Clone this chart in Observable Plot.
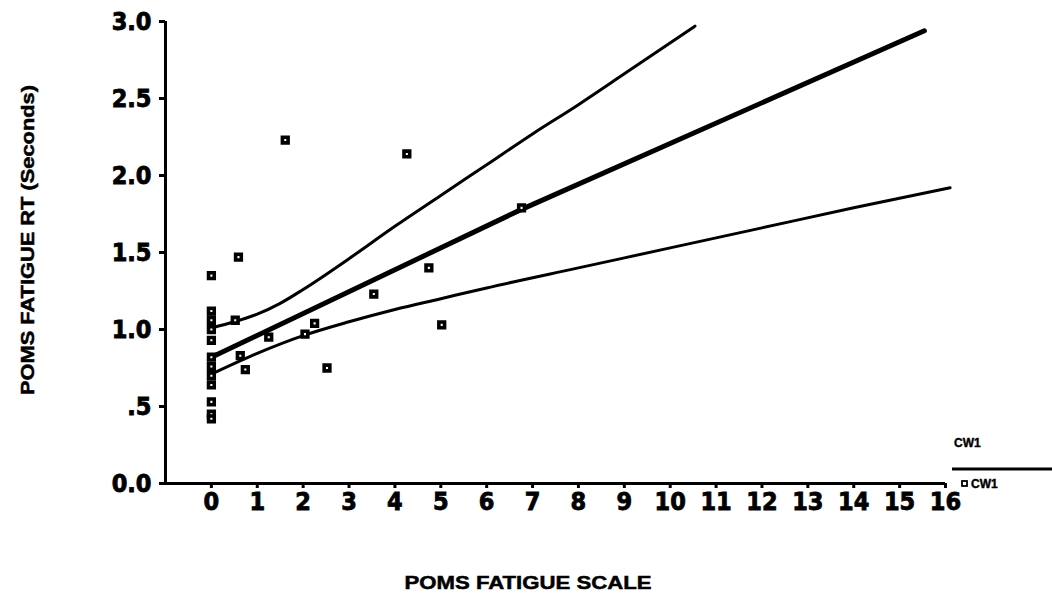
<!DOCTYPE html>
<html>
<head>
<meta charset="utf-8">
<script src="https://cdn.jsdelivr.net/npm/d3@7"></script>
<script src="https://cdn.jsdelivr.net/npm/@observablehq/plot@0.6"></script>
<style>
  html, body { margin: 0; padding: 0; background: #fff; }
  #chart svg { display: block; background: #fff; }
</style>
</head>
<body>
<div id="chart"></div>
<script>
// Scatter data: POMS fatigue scale score vs RT (seconds)
const pomsX = [0, 0, 0, 0, 0, 0, 0, 0, 0, 0, 0, 0,
               0.59, 0.52, 0.63, 0.74, 1.25, 1.61, 2.04, 2.25, 2.52, 3.54, 4.26, 4.74, 5.02, 6.76];
const rtY   = [1.35, 1.12, 1.06, 1.00, 0.93, 0.82, 0.76, 0.70, 0.64, 0.53, 0.45, 0.42,
               1.47, 1.06, 0.83, 0.74, 0.95, 2.23, 0.97, 1.04, 0.75, 1.23, 2.14, 1.40, 1.03, 1.79];

// Regression line
const fitX = [0, 6.76, 15.54];
const fitY = [0.82, 1.78, 2.94];
// Upper confidence curve
const upperX = [0, 0.5, 1, 1.5, 2, 3, 4, 5, 6, 7, 8, 9, 10.54];
const upperY = [1.01, 1.05, 1.10, 1.17, 1.26, 1.46, 1.67, 1.87, 2.07, 2.27, 2.46, 2.66, 2.97];
// Lower confidence curve
const lowerX = [0, 1, 2, 3, 4, 5, 6, 8, 10, 12, 14, 16.1];
const lowerY = [0.71, 0.845, 0.96, 1.05, 1.13, 1.20, 1.27, 1.40, 1.53, 1.66, 1.79, 1.92];

// Axis ticks
const xTicks = d3.range(0, 17);
const yTicks = [0, 0.5, 1, 1.5, 2, 2.5, 3];
const yTickLabels = ["0.0", ".5", "1.0", "1.5", "2.0", "2.5", "3.0"];

const xTitle = "POMS FATIGUE SCALE";
const yTitle = "POMS FATIGUE RT (Seconds)";
const legendTitle = "CW1";
const legendItem = "CW1";

const points = pomsX.map((x, i) => ({x, y: rtY[i]}));
const fit = fitX.map((x, i) => ({x, y: fitY[i]}));
const upper = upperX.map((x, i) => ({x, y: upperY[i]}));
const lower = lowerX.map((x, i) => ({x, y: lowerY[i]}));

const tickFont = "'Liberation Sans Narrow', 'DejaVu Sans Condensed', 'Liberation Sans', sans-serif";

const chart = Plot.plot({
  width: 1052,
  height: 603,
  marginLeft: 165,
  marginRight: 107,
  marginTop: 21,
  marginBottom: 120,
  style: {background: "#fff", color: "#000", overflow: "visible"},
  x: {domain: [-1, 16], axis: null},
  y: {domain: [0, 3], axis: null},
  marks: [
    Plot.ruleY([0], {stroke: "#000", strokeWidth: 3}),
    Plot.ruleX([-1], {stroke: "#000", strokeWidth: 3}),
    Plot.axisX({
      ticks: xTicks, tickSize: 5, tickPadding: 4, strokeWidth: 3,
      tickFormat: d => String(d), label: null,
      fontSize: 25, fontWeight: "bold", fontFamily: tickFont
    }),
    Plot.axisY({
      ticks: yTicks, tickSize: 6, tickPadding: 8, strokeWidth: 3,
      tickFormat: d => yTickLabels[yTicks.indexOf(d)], label: null,
      fontSize: 25, fontWeight: "bold", fontFamily: tickFont
    }),
    Plot.line(upper, {x: "x", y: "y", stroke: "#000", strokeWidth: 3, curve: "monotone-x"}),
    Plot.line(lower, {x: "x", y: "y", stroke: "#000", strokeWidth: 3, curve: "monotone-x"}),
    Plot.line(fit, {x: "x", y: "y", stroke: "#000", strokeWidth: 5, curve: "linear"}),
    Plot.dot(points, {x: "x", y: "y", symbol: "square", r: 3.2, stroke: "#000", strokeWidth: 3.6, fill: "#fff"})
  ]
});

document.getElementById("chart").appendChild(chart);

const svg = d3.select(chart);
// thicken tick labels like the scanned original
svg.selectAll("g[aria-label='x-axis tick label'] text, g[aria-label='y-axis tick label'] text")
  .attr("stroke", "#000").attr("stroke-width", 0.8);

// Axis titles
svg.append("text")
  .attr("x", 528).attr("y", 589)
  .attr("text-anchor", "middle")
  .attr("font-family", "'Liberation Sans', Arial, sans-serif")
  .attr("font-weight", "bold").attr("font-size", 19)
  .attr("textLength", 247).attr("lengthAdjust", "spacingAndGlyphs")
  .attr("stroke", "#000").attr("stroke-width", 0.5)
  .text(xTitle);

svg.append("text")
  .attr("transform", "translate(34,240) rotate(-90)")
  .attr("text-anchor", "middle")
  .attr("font-family", "'Liberation Sans', Arial, sans-serif")
  .attr("font-weight", "bold").attr("font-size", 18)
  .attr("textLength", 310).attr("lengthAdjust", "spacingAndGlyphs")
  .attr("stroke", "#000").attr("stroke-width", 0.5)
  .text(yTitle);

// Legend
svg.append("text")
  .attr("x", 954).attr("y", 447)
  .attr("text-anchor", "start")
  .attr("font-family", "'Liberation Sans Narrow', 'Liberation Sans', sans-serif")
  .attr("font-weight", "bold").attr("font-size", 12)
  .attr("stroke", "#000").attr("stroke-width", 0.4)
  .text(legendTitle);
svg.append("line")
  .attr("x1", 952).attr("x2", 1052).attr("y1", 469).attr("y2", 469)
  .attr("stroke", "#000").attr("stroke-width", 3);
svg.append("rect")
  .attr("x", 962).attr("y", 481).attr("width", 5).attr("height", 5)
  .attr("fill", "#fff").attr("stroke", "#000").attr("stroke-width", 1.8);
svg.append("text")
  .attr("x", 971).attr("y", 488)
  .attr("text-anchor", "start")
  .attr("font-family", "'Liberation Sans Narrow', 'Liberation Sans', sans-serif")
  .attr("font-weight", "bold").attr("font-size", 12)
  .attr("stroke", "#000").attr("stroke-width", 0.4)
  .text(legendItem);
</script>
</body>
</html>
